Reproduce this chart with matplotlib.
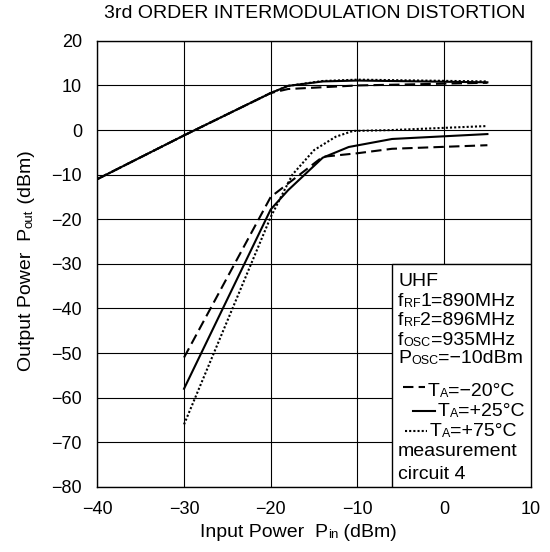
import matplotlib.pyplot as plt
from matplotlib.patches import Rectangle

plt.rcParams['font.family'] = ['Liberation Sans', 'DejaVu Sans']

# fundamental output (three temperatures)
pin_fund = [-40, -30, -20, -18, -14, -10, 5]
fund_m20 = [-11, -1.2, 8.3, 9.2, 9.6, 10.0, 10.6]
fund_p25 = [-11, -1.2, 8.3, 9.9, 10.9, 11.1, 10.7]
fund_p75 = [-11, -1.2, 8.3, 9.9, 11.0, 11.3, 10.9]

# 3rd order IM output
pin_im_m20 = [-30, -20, -14, -10, -6, 5]
im_m20 = [-51, -15, -6, -5.2, -4.2, -3.4]
pin_im_p25 = [-30, -20, -18, -14, -11, -6, 5]
im_p25 = [-58, -17.8, -13.5, -6.2, -3.8, -2, -0.9]
pin_im_p75 = [-30, -20, -17.5, -15, -12.5, -10.5, -6, 5]
im_p75 = [-66, -19.5, -10, -4.5, -1.5, -0.2, 0, 0.9]

xticks = [-40, -30, -20, -10, 0, 10]
yticks = [20, 10, 0, -10, -20, -30, -40, -50, -60, -70, -80]

FS = 13
LFS = 14
BFS = 14
SUB = 9


def rich_text(ax, x, y, parts, transform=None, rotation=0):
    # chain text pieces of different sizes, small ones sit near the baseline
    if transform is None:
        transform = ax.transData
    if rotation == 90:
        prev = ax.text(x, y, parts[0][0], fontsize=parts[0][1], ha='right',
                       va='bottom', rotation=90, transform=transform, zorder=4)
        for s, size in parts[1:]:
            prev = ax.annotate(s, xy=(1, 1), xycoords=prev, fontsize=size,
                               ha='right', va='bottom', rotation=90, zorder=4)
        return prev
    prev = ax.text(x, y, parts[0][0], fontsize=parts[0][1], ha='left',
                   va='baseline', transform=transform, zorder=4)
    for s, size in parts[1:]:
        prev = ax.annotate(s, xy=(1, 0), xycoords=prev, fontsize=size, ha='left',
                           va='bottom', zorder=4)
    return prev


fig = plt.figure(figsize=(5.5, 5.52), dpi=100)
ax = fig.add_axes([0.177, 0.118, 0.788, 0.808])

dash = (0, (5, 2.5))
dot = (0, (1, 1))
ax.plot(pin_fund, fund_m20, color='black', lw=1.5, linestyle=dash)
ax.plot(pin_fund, fund_p25, color='black', lw=1.5)
ax.plot(pin_fund, fund_p75, color='black', lw=1.5, linestyle=dot)
ax.plot(pin_im_m20, im_m20, color='black', lw=1.5, linestyle=dash)
ax.plot(pin_im_p25, im_p25, color='black', lw=1.5)
ax.plot(pin_im_p75, im_p75, color='black', lw=1.5, linestyle=dot)

ax.set_xlim(-40, 10)
ax.set_ylim(-80, 20)
ax.set_xticks(xticks)
ax.set_yticks(yticks)
ax.tick_params(length=0, labelsize=FS)
ax.tick_params(axis='x', pad=10)
ax.tick_params(axis='y', pad=11)
ax.grid(True, color='black', lw=0.8)
ax.set_axisbelow(True)
for s in ax.spines.values():
    s.set_linewidth(1.0)

fig.text(0.572, 1 - 13 / 552, '3rd ORDER INTERMODULATION DISTORTION',
         fontsize=14, ha='center', va='center')

# axis labels with small subscripts
rich_text(ax, 0.237, -0.112, [('Input Power  P', LFS), ('in', SUB + 0.5), (' (dBm)', LFS)],
          transform=ax.transAxes)
rich_text(ax, -0.143, 0.26, [('Output Power  P', LFS), ('out', SUB + 0.5), (' (dBm)', LFS)],
          transform=ax.transAxes, rotation=90)

# condition box in the lower right corner
ax.add_patch(Rectangle((-6, -80), 16, 50, facecolor='white', edgecolor='black',
                       lw=1.0, zorder=3))
rich_text(ax, -5.3, -34.9, [('UHF', BFS)])
rich_text(ax, -5.3, -39.5, [('f', BFS), ('RF', SUB), ('1=890MHz', BFS)])
rich_text(ax, -5.3, -43.8, [('f', BFS), ('RF', SUB), ('2=896MHz', BFS)])
rich_text(ax, -5.3, -48.1, [('f', BFS), ('OSC', SUB), ('=935MHz', BFS)])
rich_text(ax, -5.3, -52.3, [('P', BFS), ('OSC', SUB), ('=\u221210dBm', BFS)])

temps = ['=\u221220°C', '=+25°C', '=+75°C']
styles = [dash, '-', dot]
base_y = [-59.7, -64.1, -68.6]
line_y = [-57.7, -62.9, -67.5]
line_x = [(-4.7, -2.2), (-3.6, -1.05), (-4.5, -2.0)]
for t, st, by, ly, lx in zip(temps, styles, base_y, line_y, line_x):
    ax.plot(lx, [ly, ly], color='black', lw=1.5, linestyle=st, zorder=4)
    rich_text(ax, lx[1] + 0.35, by, [('T', BFS), ('A', SUB), (t, BFS)])
rich_text(ax, -5.3, -73.1, [('measurement', BFS)])
rich_text(ax, -5.3, -78.3, [('circuit 4', BFS)])

fig.savefig('out.png', dpi=100)
